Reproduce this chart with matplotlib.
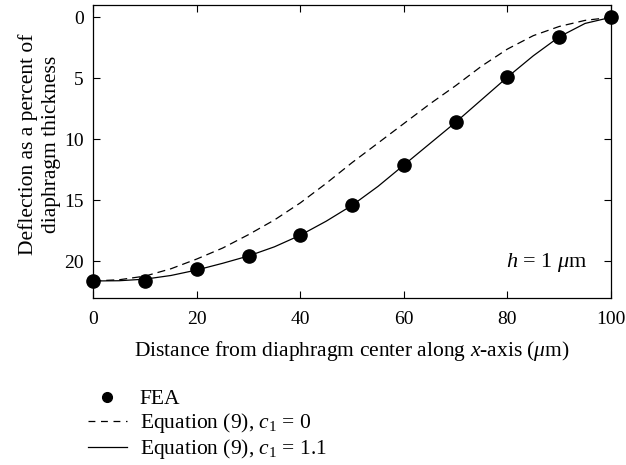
import matplotlib
matplotlib.use("Agg")
import matplotlib.pyplot as plt
from matplotlib.lines import Line2D

plt.rcParams["font.family"] = ["Liberation Serif", "DejaVu Serif"]
plt.rcParams["mathtext.fontset"] = "custom"
plt.rcParams["mathtext.rm"] = "Liberation Serif"
plt.rcParams["mathtext.it"] = "Liberation Serif:italic"

# FEA results
fea_x = [0, 10, 20, 30, 40, 50, 60, 70, 80, 90, 100]
fea_y = [21.6, 21.6, 20.65, 19.55, 17.85, 15.4, 12.1, 8.6, 4.9, 1.6, 0.0]

# Equation (9) curves, sampled every 5 um
curve_x = [0, 5, 10, 15, 20, 25, 30, 35, 40, 45, 50,
           55, 60, 65, 70, 75, 80, 85, 90, 95, 100]
eq_c0 = [21.6, 21.5, 21.2, 20.6, 19.8, 18.9, 17.8, 16.6, 15.2, 13.6, 11.9,
         10.3, 8.7, 7.1, 5.6, 4.0, 2.6, 1.5, 0.75, 0.25, 0.0]
eq_c11 = [21.6, 21.58, 21.45, 21.15, 20.7, 20.15, 19.55, 18.8, 17.85, 16.7, 15.4,
          13.85, 12.1, 10.35, 8.6, 6.75, 4.9, 3.15, 1.6, 0.5, 0.0]

fig = plt.figure(figsize=(6.26, 4.65), dpi=100)
ax = fig.add_axes([0.149, 0.359, 0.827, 0.630])

ax.plot(curve_x, eq_c0, color="black", lw=0.9, dashes=(6.4, 4))
ax.plot(curve_x, eq_c11, color="black", lw=0.9)
ax.plot(fea_x, fea_y, "o", color="black", ms=9.5, clip_on=False, zorder=3)

ax.set_xlim(0, 100)
ax.set_ylim(23, -1)
ax.set_xticks([0, 20, 40, 60, 80, 100])
ax.set_yticks([0, 5, 10, 15, 20])
ax.tick_params(direction="in", top=True, right=True, labelsize=14, length=5)
ax.tick_params(axis="x", pad=9)
ax.tick_params(axis="y", pad=7)
for s in ax.spines.values():
    s.set_linewidth(0.9)

ax.set_xlabel(r"Distance from diaphragm center along $x$-axis ($\mu$m)", fontsize=15.5, labelpad=8)
ax.set_ylabel("Deflection as a percent of\ndiaphragm thickness", fontsize=15.5, labelpad=2,
              linespacing=1.3)
ax.yaxis.label.set_y(0.524)
ax.text(0.954, 0.123, r"$h$ = 1 $\mu$m", transform=ax.transAxes, ha="right", va="center", fontsize=16)

# Legend under the plot
handles = [
    Line2D([], [], marker="o", color="black", ls="none", ms=7),
    Line2D([], [], color="black", lw=0.9, dashes=(5.5, 4.5)),
    Line2D([], [], color="black", lw=0.9),
]
labels = ["FEA", r"Equation (9), $c_1$ = 0", r"Equation (9), $c_1$ = 1.1"]
fig.legend(handles, labels, loc="upper left", bbox_to_anchor=(0.127, 0.182),
           bbox_transform=fig.transFigure, frameon=False, fontsize=15.5,
           handlelength=1.8, handletextpad=0.6, labelspacing=0.1, borderaxespad=0)

fig.savefig("out.png", dpi=100)
